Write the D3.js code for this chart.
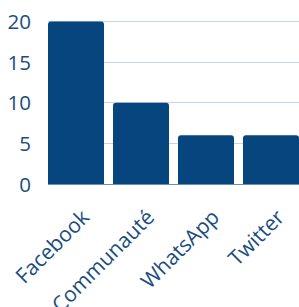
<!DOCTYPE html>
<html><head><meta charset="utf-8">
<script src="https://cdn.jsdelivr.net/npm/d3@7"></script>
<style>body{margin:0;background:#fff}svg{display:block}text{font-family:"Open Sans",sans-serif}</style>
</head><body><svg id="c" width="299" height="307"></svg>
<script>
const categories = ["Facebook","Communauté","WhatsApp","Twitter"];
const values = [20,10,6,6];
const yTicks = [0,5,10,15,20];

const svg = d3.select("#c");
const m = {l:48, r:299, t:21.5, b:184};
const x = d3.scaleBand().domain(categories).range([m.l, m.r]).paddingInner(9/65).paddingOuter(0);
const y = d3.scaleLinear().domain([0,20]).range([m.b, m.t]);
const barColor = "#07457f", textColor = "#1a4d80", gridColor = "#c6d4e3";

const grid = svg.append("g");
yTicks.forEach(t=>{
  grid.append("line").attr("x1",m.l).attr("x2",m.r).attr("y1",y(t)).attr("y2",y(t))
    .attr("stroke", t===0 ? "#6d8fb4" : gridColor).attr("stroke-width",1).attr("shape-rendering","crispEdges");
});
const yAxis = d3.axisLeft(y).tickValues(yTicks).tickSize(0).tickPadding(0);
const ya = svg.append("g").attr("transform",`translate(31,0)`).call(yAxis);
ya.select(".domain").remove();
ya.selectAll("text").attr("font-size",20.5).attr("fill",textColor).attr("dy","0.35em");

const r = 3;
svg.append("g").selectAll("path").data(categories).join("path")
  .attr("fill",barColor)
  .attr("d",(c,i)=>{
    const y0=y(values[i]), y1=y(0);
    const xb=x(c), wb=x.bandwidth();
    return `M${xb},${y1}V${y0+r}Q${xb},${y0} ${xb+r},${y0}H${xb+wb-r}Q${xb+wb},${y0} ${xb+wb},${y0+r}V${y1}Z`;
  });

const xa = svg.append("g").attr("transform",`translate(0,${m.b})`)
  .call(d3.axisBottom(x).tickSize(0).tickPadding(0));
xa.select(".domain").remove();
xa.selectAll("text").attr("font-size",21).attr("fill",textColor)
  .attr("text-anchor","end").attr("dy",null).attr("y",null)
  .attr("transform","translate(9,29) rotate(-45)").attr("dominant-baseline","central");
</script></body></html>
